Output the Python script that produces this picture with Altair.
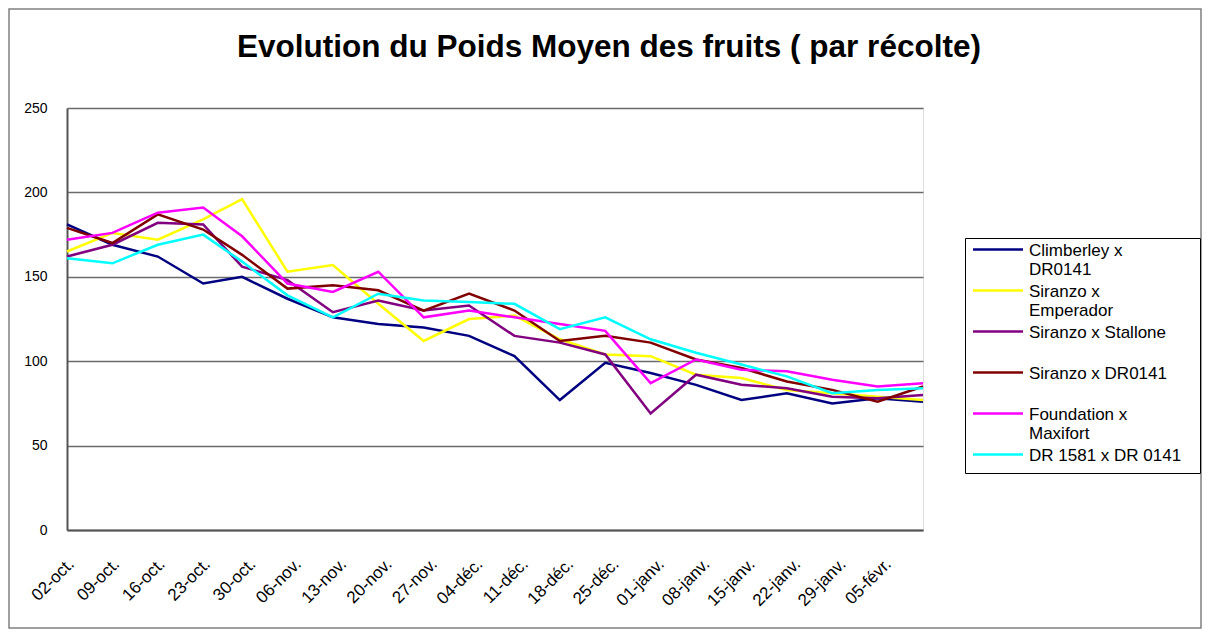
import altair as alt
import pandas as pd

# x-axis tick labels (weekly) and their day offsets from 02-oct.
label_text = ['02-oct.', '09-oct.', '16-oct.', '23-oct.', '30-oct.', '06-nov.', '13-nov.',
              '20-nov.', '27-nov.', '04-déc.', '11-déc.', '18-déc.', '25-déc.', '01-janv.',
              '08-janv.', '15-janv.', '22-janv.', '29-janv.', '05-févr.']
label_days = [0, 7, 14, 21, 28, 35, 42, 49, 56, 63, 70, 77, 84, 91, 98, 105, 112, 119, 126]

# harvest dates (day offset from 02-oct.)
point_days = [0, 7, 14, 21, 27, 34, 41, 48, 55, 62, 69, 76, 83, 90, 97, 104, 111, 118, 125, 132]

series_names = ['Climberley x DR0141', 'Siranzo x Emperador', 'Siranzo x Stallone',
                'Siranzo x DR0141', 'Foundation x Maxifort', 'DR 1581 x DR 0141']
legend_lines = [['Climberley  x', 'DR0141'], ['Siranzo  x', 'Emperador'], ['Siranzo  x  Stallone'],
                ['Siranzo  x  DR0141'], ['Foundation  x', 'Maxifort'], ['DR 1581  x  DR 0141']]
colors = ['#000080', '#FFFF00', '#800080', '#800000', '#FF00FF', '#00FFFF']

climberley = [181, 169, 162, 146, 150, 137, 126, 122, 120, 115, 103, 77, 99, 93, 86, 77, 81, 75, 78, 76]
emperador = [165, 176, 172, 184, 196, 153, 157, 134, 112, 125, 127, 113, 104, 103, 92, 90, 83, 81, 79, 77]
stallone = [162, 169, 182, 181, 156, 148, 129, 136, 130, 133, 115, 111, 104, 69, 92, 86, 84, 79, 78, 80]
siranzo_dr = [179, 170, 187, 178, 163, 143, 145, 142, 130, 140, 130, 112, 115, 111, 101, 96, 88, 83, 76, 85]
foundation = [172, 176, 188, 191, 174, 146, 141, 153, 126, 130, 126, 122, 118, 87, 101, 95, 94, 89, 85, 87]
dr1581 = [161, 158, 169, 175, 159, 139, 126, 140, 136, 135, 134, 119, 126, 113, 105, 98, 91, 81, 83, 84]

all_series = [climberley, emperador, stallone, siranzo_dr, foundation, dr1581]

rows = []
for name, vals in zip(series_names, all_series):
    for d, v in zip(point_days, vals):
        rows.append({'series': name, 'day': d, 'value': v})
df = pd.DataFrame(rows)

x_label_expr = ' : '.join(f"datum.value == {d} ? '{t}'" for d, t in zip(label_days, label_text)) + " : ''"
legend_expr = ' : '.join(
    f"datum.label == '{n}' ? [" + ', '.join(f"'{l}'" for l in ls) + "]"
    for n, ls in zip(series_names, legend_lines)) + " : datum.label"

FONT = 'Liberation Sans'

lines = alt.Chart(df).mark_line(strokeWidth=2.5).encode(
    x=alt.X('day:Q',
            scale=alt.Scale(domain=[0, 132], nice=False, zero=False),
            axis=alt.Axis(values=label_days, labelExpr=x_label_expr, labelAngle=-45,
                          labelAlign='right', labelBaseline='middle', labelPadding=31,
                          labelOffset=4, ticks=False, grid=False, domainColor='#555555',
                          domainWidth=2, title=None, labelFontSize=17, labelFont=FONT,
                          labelColor='black', labelOverlap=False)),
    y=alt.Y('value:Q',
            scale=alt.Scale(domain=[0, 250], nice=False),
            axis=alt.Axis(values=[0, 50, 100, 150, 200, 250], grid=True, gridColor='#6b6b6b',
                          gridWidth=1.5, ticks=False, labelPadding=20, labelFontSize=14,
                          labelFont=FONT, labelColor='black', domainColor='#555555',
                          domainWidth=2, title=None)),
    color=alt.Color('series:N',
                    scale=alt.Scale(domain=series_names, range=colors),
                    legend=alt.Legend(title=None, orient='none', legendX=898, legendY=130,
                                      strokeColor='black', fillColor='white', padding=9,
                                      symbolType='M-25,-6H25', symbolSize=4, symbolOffset=15.5,
                                      symbolStrokeWidth=2.5, labelFontSize=17, labelFont=FONT,
                                      labelColor='black', labelBaseline='alphabetic',
                                      labelExpr=legend_expr, gridAlign='all', rowPadding=4,
                                      labelLimit=400, labelOffset=22.5)),
)

frame = alt.Chart(pd.DataFrame({'f': [0]})).mark_rect(
    fillOpacity=0, stroke='#808080', strokeWidth=1.5
).encode(x=alt.value(-58), x2=alt.value(1134), y=alt.value(-99), y2=alt.value(520))

chart = alt.layer(frame, lines).properties(
    width=856, height=422,
    padding={'left': 59, 'top': 100, 'right': 279, 'bottom': 100},
    autosize='none',
    title=alt.TitleParams('Evolution du Poids Moyen des fruits ( par récolte)',
                          fontSize=31.5, font=FONT, fontWeight='bold', anchor='middle',
                          frame='group', dx=114, offset=0, dy=80, baseline='alphabetic',
                          color='black'),
).configure_view(stroke='#808080', strokeWidth=2).configure(background='white')

chart.save('out.html', embed_options={'renderer': 'svg', 'actions': False})
